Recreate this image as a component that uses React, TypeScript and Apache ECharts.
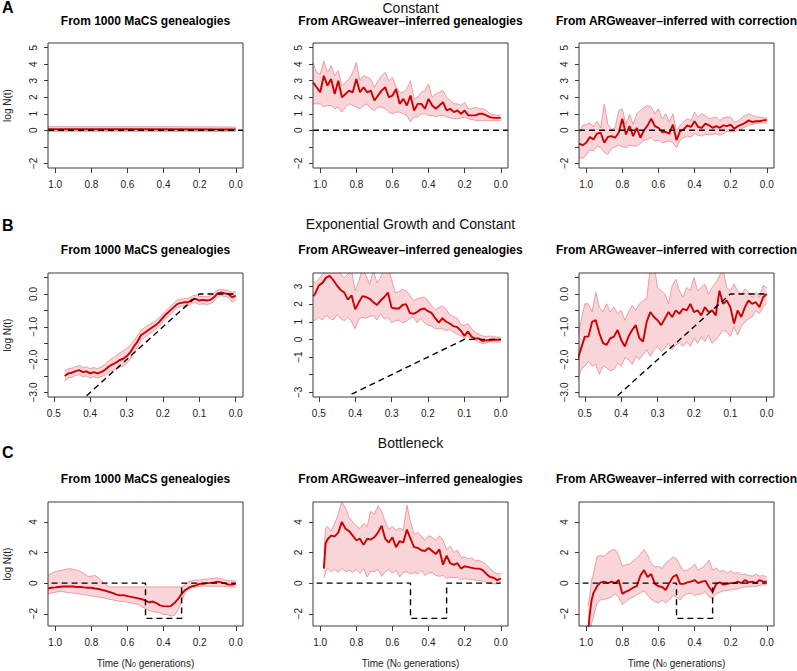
import React, { useEffect, useRef } from "react";
import * as echarts from "echarts";

const FONT = "'Liberation Sans', Arial, Helvetica, sans-serif";

// ---------- texts ----------
const rowTitles = ["Constant", "Exponential Growth and Constant", "Bottleneck"];
const rowLetters = ["A", "B", "C"];
const colTitles = [
  "From 1000 MaCS genealogies",
  "From ARGweaver–inferred genealogies",
  "From ARGweaver–inferred with correction",
];
const yAxisTitle = "log N(t)";
const xAxisTitle = "Time (N{sub|0} generations)";

// ---------- tick values ----------
const xTicksLong = [1.0, 0.8, 0.6, 0.4, 0.2, 0.0];
const xTicksShort = [0.5, 0.4, 0.3, 0.2, 0.1, 0.0];
const yTicksA = [-2, -1, 0, 1, 2, 3, 4, 5];
const yLabelsA = [-2, 0, 1, 2, 3, 4, 5];
const yTicksB = [-3, -2.5, -2, -1.5, -1, -0.5, 0, 0.5];
const yLabelsB = [-3, -2, -1, 0];
const yTicksB2 = [-3, -2, -1, 0, 1, 2, 3];
const yLabelsB2 = [-3, -1, 0, 1, 2, 3];
const yTicksC = [-2, 0, 2, 4];
const yLabelsC = [-2, 0, 2, 4];

// ---------- true histories (dashed) ----------
const truthA_x = [1.04, -0.04];
const truthA_y = [0, 0];
const truthB_x = [0.41, 0.1, 0.0];
const truthB_y = [-3.1, 0, 0];
const truthC_x = [1.02, 0.5, 0.5, 0.3, 0.3, 0.0];
const truthC_y = [0, 0, -2.3, -2.3, 0, 0];

// ---------- time grids ----------
const xFull = [1.04, 1.02, 1.0, 0.98, 0.96, 0.94, 0.92, 0.9, 0.88, 0.86, 0.84, 0.82, 0.8, 0.78, 0.76, 0.74, 0.72, 0.7, 0.68, 0.66, 0.64, 0.62, 0.6, 0.58, 0.56, 0.54, 0.52, 0.5, 0.48, 0.46, 0.44, 0.42, 0.4, 0.38, 0.36, 0.34, 0.32, 0.3, 0.28, 0.26, 0.24, 0.22, 0.2, 0.18, 0.16, 0.14, 0.12, 0.1, 0.08, 0.06, 0.04, 0.02, 0.0];
const xA1 = [1.04, 0.52, 0.0];
const xB1 = [0.47, 0.46, 0.45, 0.44, 0.43, 0.42, 0.41, 0.4, 0.39, 0.38, 0.37, 0.36, 0.35, 0.34, 0.33, 0.32, 0.31, 0.3, 0.29, 0.28, 0.27, 0.26, 0.25, 0.24, 0.23, 0.22, 0.21, 0.2, 0.19, 0.18, 0.17, 0.16, 0.15, 0.14, 0.13, 0.12, 0.11, 0.1, 0.09, 0.08, 0.07, 0.06, 0.05, 0.04, 0.03, 0.02, 0.01, 0.0];
const xB2 = [0.515, 0.51, 0.5, 0.49, 0.48, 0.47, 0.46, 0.45, 0.44, 0.43, 0.42, 0.41, 0.4, 0.39, 0.38, 0.37, 0.36, 0.35, 0.34, 0.33, 0.32, 0.31, 0.3, 0.29, 0.28, 0.27, 0.26, 0.25, 0.24, 0.23, 0.22, 0.21, 0.2, 0.19, 0.18, 0.17, 0.16, 0.15, 0.14, 0.13, 0.12, 0.11, 0.1, 0.09, 0.08, 0.07, 0.06, 0.05, 0.04, 0.03, 0.02, 0.01, 0.0];
const xB3 = [0.52, 0.51, 0.5, 0.49, 0.48, 0.47, 0.46, 0.45, 0.44, 0.43, 0.42, 0.41, 0.4, 0.39, 0.38, 0.37, 0.36, 0.35, 0.34, 0.33, 0.32, 0.31, 0.3, 0.29, 0.28, 0.27, 0.26, 0.25, 0.24, 0.23, 0.22, 0.21, 0.2, 0.19, 0.18, 0.17, 0.16, 0.15, 0.14, 0.13, 0.12, 0.11, 0.1, 0.09, 0.08, 0.07, 0.06, 0.05, 0.04, 0.03, 0.02, 0.01, 0.0];
const xC2 = [0.98, 0.97, 0.96, 0.94, 0.92, 0.9, 0.88, 0.86, 0.84, 0.82, 0.8, 0.78, 0.76, 0.74, 0.72, 0.7, 0.68, 0.66, 0.64, 0.62, 0.6, 0.58, 0.56, 0.54, 0.52, 0.5, 0.48, 0.46, 0.44, 0.42, 0.4, 0.38, 0.36, 0.34, 0.32, 0.3, 0.28, 0.26, 0.24, 0.22, 0.2, 0.18, 0.16, 0.14, 0.12, 0.1, 0.08, 0.06, 0.04, 0.02, 0.0];
const xC3 = [0.99, 0.98, 0.97, 0.96, 0.94, 0.92, 0.9, 0.88, 0.86, 0.84, 0.82, 0.8, 0.78, 0.76, 0.74, 0.72, 0.7, 0.68, 0.66, 0.64, 0.62, 0.6, 0.58, 0.56, 0.54, 0.52, 0.5, 0.48, 0.46, 0.44, 0.42, 0.4, 0.38, 0.36, 0.34, 0.32, 0.3, 0.28, 0.26, 0.24, 0.22, 0.2, 0.18, 0.16, 0.14, 0.12, 0.1, 0.08, 0.06, 0.04, 0.02, 0.0];

// ---------- Row A: constant ----------
const A1_mid = [0.06, 0.06, 0.05];
const A1_lo = [-0.08, -0.08, -0.08];
const A1_hi = [0.22, 0.22, 0.2];

const A2_mid = [2.9, 2.6, 2.3, 3.3, 2.7, 3.1, 2.2, 3.0, 2.0, 2.2, 2.4, 2.3, 3.1, 2.3, 2.6, 2.3, 2.4, 1.8, 2.1, 2.4, 2.6, 2.0, 2.1, 2.5, 1.6, 1.9, 1.5, 2.1, 1.2, 1.6, 1.6, 1.3, 1.9, 1.5, 1.3, 1.5, 1.7, 1.2, 1.3, 1.1, 1.2, 1.0, 1.2, 0.9, 0.9, 0.9, 1.0, 1.0, 0.9, 0.8, 0.75, 0.75, 0.75];
const A2_hi = [4.1, 3.5, 3.4, 4.2, 3.5, 3.9, 3.3, 3.6, 2.7, 2.9, 3.1, 3.5, 4.1, 3.0, 3.3, 3.2, 3.1, 2.6, 3.0, 3.3, 3.5, 3.0, 3.2, 2.6, 2.3, 2.3, 2.5, 3.0, 1.9, 2.0, 2.3, 2.4, 2.8, 2.0, 2.2, 2.3, 2.4, 2.0, 1.8, 1.6, 1.6, 1.5, 1.7, 1.3, 1.3, 1.4, 1.3, 1.3, 1.2, 1.0, 0.95, 0.9, 0.9];
const A2_lo = [1.6, 1.6, 1.6, 1.4, 1.5, 1.5, 1.3, 1.4, 1.1, 1.4, 1.6, 1.5, 1.4, 1.3, 1.5, 1.6, 1.3, 1.2, 1.4, 1.4, 1.3, 1.1, 1.0, 1.1, 1.1, 1.0, 0.9, 0.5, 0.8, 0.8, 1.0, 1.0, 0.9, 0.9, 0.8, 0.9, 0.9, 0.8, 0.75, 0.7, 0.7, 0.75, 0.8, 0.7, 0.65, 0.6, 0.6, 0.6, 0.6, 0.6, 0.6, 0.6, 0.6];

const A3_mid = [-0.8, -0.9, -0.75, -0.4, -0.55, -0.2, -0.15, -0.75, -0.4, -0.35, -0.45, -0.15, 0.7, -0.25, 0.25, -0.35, 0.15, -0.45, 0.0, 0.3, 0.7, 0.25, 0.15, -0.1, -0.1, -0.2, 0.35, -0.6, -0.05, 0.05, 0.3, 0.2, 0.55, 0.2, 0.15, 0.4, 0.3, 0.15, 0.25, 0.15, 0.3, 0.25, 0.35, 0.1, 0.25, 0.35, 0.45, 0.6, 0.5, 0.55, 0.55, 0.6, 0.62];
const A3_hi = [-0.2, 0.3, 0.35, 0.45, 0.2, 0.55, 0.15, 1.6, 0.35, 0.05, 0.15, 1.2, 1.3, 0.35, 0.95, 0.35, 1.0, 1.2, 1.4, 1.5, 1.4, 1.0, 1.3, 0.7, 1.0, 0.5, 1.0, -0.05, 0.3, 0.5, 0.7, 0.6, 1.1, 0.8, 1.0, 0.9, 0.7, 0.75, 0.8, 0.6, 0.75, 0.8, 0.8, 0.5, 0.55, 0.75, 0.9, 1.0, 0.9, 0.8, 0.8, 0.75, 0.75];
const A3_lo = [-1.65, -1.7, -1.5, -1.2, -1.25, -0.95, -1.05, -1.35, -1.45, -1.1, -1.0, -0.9, -1.0, -1.05, -0.9, -0.95, -0.95, -0.8, -0.6, -0.55, -0.45, -0.65, -0.6, -0.75, -0.7, -0.65, -0.75, -1.05, -0.6, -0.45, -0.35, -0.4, -0.2, -0.3, -0.35, -0.25, -0.25, -0.25, -0.2, -0.3, -0.2, -0.05, -0.1, -0.1, 0.0, 0.1, 0.2, 0.3, 0.35, 0.4, 0.45, 0.45, 0.45];

// ---------- Row B: exponential growth and constant ----------
const B1_mid = [-2.5, -2.42, -2.4, -2.35, -2.32, -2.38, -2.36, -2.42, -2.38, -2.42, -2.38, -2.32, -2.22, -2.15, -2.1, -2.02, -1.98, -1.9, -1.78, -1.6, -1.45, -1.25, -1.18, -1.1, -1.02, -0.95, -0.85, -0.72, -0.6, -0.5, -0.4, -0.3, -0.27, -0.25, -0.25, -0.17, -0.15, -0.2, -0.18, -0.2, -0.18, -0.1, 0.02, 0.05, 0.02, 0.0, -0.1, -0.05];
const B1_hi = [-2.35, -2.28, -2.26, -2.22, -2.18, -2.24, -2.22, -2.28, -2.24, -2.28, -2.22, -2.16, -2.04, -1.97, -1.9, -1.8, -1.74, -1.66, -1.56, -1.42, -1.28, -1.1, -1.02, -0.95, -0.88, -0.82, -0.72, -0.6, -0.48, -0.38, -0.28, -0.18, -0.16, -0.14, -0.13, -0.06, -0.04, -0.08, -0.07, -0.08, -0.06, 0.02, 0.12, 0.14, 0.12, 0.1, 0.05, 0.08];
const B1_lo = [-2.65, -2.56, -2.54, -2.48, -2.46, -2.52, -2.5, -2.56, -2.52, -2.56, -2.52, -2.48, -2.4, -2.33, -2.3, -2.24, -2.2, -2.12, -1.98, -1.78, -1.62, -1.4, -1.32, -1.24, -1.16, -1.08, -0.98, -0.85, -0.72, -0.62, -0.52, -0.42, -0.38, -0.36, -0.36, -0.28, -0.26, -0.32, -0.3, -0.32, -0.3, -0.22, -0.08, -0.05, -0.08, -0.1, -0.25, -0.18];

const B2_mid = [2.45, 2.6, 3.05, 3.2, 3.5, 3.6, 3.35, 3.05, 2.8, 2.65, 2.25, 2.5, 1.7, 2.1, 2.45, 2.4, 2.3, 2.1, 1.95, 2.2, 2.4, 2.65, 1.8, 1.75, 1.75, 1.95, 2.0, 1.5, 1.45, 1.55, 1.7, 1.75, 1.6, 1.5, 1.2, 0.95, 1.2, 1.0, 0.9, 0.75, 0.7, 0.5, 0.2, 0.45, 0.15, 0.05, 0.05, -0.1, -0.05, -0.05, -0.02, -0.02, -0.02];
const B2_hi = [3.3, 3.2, 3.4, 3.7, 3.9, 4.2, 4.3, 4.0, 3.7, 3.5, 3.7, 3.9, 2.75, 3.3, 4.0, 3.6, 3.1, 3.9, 3.2, 3.5, 4.0, 4.1, 3.4, 2.65, 2.7, 2.85, 2.75, 2.5, 2.2, 2.3, 2.35, 2.4, 2.2, 1.9, 1.7, 1.8, 1.9, 1.7, 1.4, 1.3, 1.2, 0.85, 0.8, 0.9, 0.6, 0.4, 0.3, 0.2, 0.15, 0.2, 0.15, 0.13, 0.13];
const B2_lo = [1.05, 1.1, 1.25, 1.1, 1.35, 1.2, 1.1, 1.4, 1.2, 1.05, 1.25, 1.0, 0.6, 1.15, 1.25, 1.2, 1.3, 1.35, 1.1, 1.45, 1.15, 1.25, 0.95, 1.05, 1.1, 0.95, 1.0, 1.2, 1.25, 0.95, 1.2, 0.95, 0.8, 0.75, 0.6, 0.6, 0.6, 0.5, 0.55, 0.4, 0.3, 0.2, 0.05, 0.2, 0.05, -0.05, -0.15, -0.25, -0.2, -0.15, -0.15, -0.15, -0.15];

const B3_mid = [-2.0, -1.65, -1.3, -1.3, -0.85, -0.8, -1.2, -1.5, -1.55, -1.35, -1.3, -1.1, -1.4, -1.6, -1.3, -1.1, -0.95, -1.35, -1.45, -0.85, -0.55, -0.7, -0.8, -0.95, -0.75, -0.55, -0.7, -0.5, -0.6, -0.45, -0.5, -0.3, -0.55, -0.5, -0.65, -0.4, -0.55, -0.5, -0.65, 0.1, -0.3, -0.2, -0.4, -0.9, -0.5, -0.7, -0.4, -0.2, -0.3, -0.25, -0.4, -0.1, 0.0];
const B3_hi = [-1.3, -0.8, -0.3, -0.3, -0.55, 0.05, -0.4, -0.55, -0.3, -0.55, -0.4, -0.6, -0.5, -0.8, -0.55, -0.35, -0.5, -0.3, -0.2, -0.15, 0.8, 0.9, 0.2, 0.1, 0.0, -0.3, 0.25, 0.45, 0.1, -0.1, 0.2, 0.1, 0.5, 0.1, 0.2, 0.3, 0.0, 0.2, 0.35, 0.55, 0.75, 0.2, 0.1, 0.3, 0.1, 0.0, 0.15, 0.05, -0.1, 0.05, -0.1, 0.25, 0.2];
const B3_lo = [-2.65, -2.3, -2.2, -2.05, -2.2, -2.15, -2.45, -2.2, -2.25, -2.35, -2.3, -2.1, -2.2, -1.95, -2.0, -2.15, -1.9, -2.0, -1.85, -1.7, -1.9, -1.7, -1.6, -1.75, -1.65, -1.5, -1.7, -1.55, -1.5, -1.6, -1.45, -1.6, -1.35, -1.5, -1.3, -1.45, -1.25, -1.5, -1.4, -1.25, -1.1, -1.15, -1.3, -1.0, -1.25, -1.0, -0.85, -0.75, -0.7, -0.5, -0.6, -0.4, -0.3];

// ---------- Row C: bottleneck ----------
const C1_mid = [-0.35, -0.3, -0.28, -0.25, -0.22, -0.22, -0.22, -0.22, -0.25, -0.25, -0.28, -0.3, -0.3, -0.35, -0.38, -0.45, -0.5, -0.58, -0.65, -0.75, -0.8, -0.78, -0.85, -0.9, -0.95, -1.0, -1.05, -1.15, -1.25, -1.2, -1.3, -1.45, -1.5, -1.52, -1.5, -1.3, -1.05, -0.7, -0.45, -0.3, -0.2, -0.15, -0.05, -0.05, 0.0, 0.02, 0.05, 0.1, 0.05, -0.02, -0.1, -0.1, -0.05];
const C1_hi = [0.5, 0.65, 0.75, 0.8, 0.85, 0.9, 0.95, 0.9, 0.85, 0.75, 0.63, 0.45, 0.45, 0.5, 0.35, 0.1, -0.1, -0.25, -0.25, -0.25, -0.25, -0.25, -0.25, -0.25, -0.25, -0.25, -0.25, -0.25, -0.25, -0.25, -0.25, -0.25, -0.25, -0.25, -0.25, -0.25, -0.25, -0.25, -0.1, 0.1, 0.15, 0.2, 0.2, 0.25, 0.25, 0.3, 0.3, 0.35, 0.3, 0.2, 0.15, 0.15, 0.15];
const C1_lo = [-0.7, -0.65, -0.6, -0.55, -0.55, -0.6, -0.62, -0.65, -0.68, -0.72, -0.75, -0.8, -0.85, -0.88, -0.9, -0.95, -1.0, -1.05, -1.1, -1.15, -1.2, -1.2, -1.25, -1.3, -1.35, -1.4, -1.55, -1.65, -1.8, -1.85, -1.9, -1.95, -2.05, -2.05, -2.15, -2.1, -1.75, -1.2, -0.6, -0.4, -0.3, -0.25, -0.22, -0.2, -0.2, -0.2, -0.2, -0.2, -0.2, -0.22, -0.25, -0.25, -0.25];

const C2_mid = [0.95, 2.6, 2.85, 3.1, 3.05, 3.3, 4.0, 3.55, 3.4, 3.1, 2.8, 2.9, 2.5, 2.9, 2.85, 3.0, 3.3, 3.75, 2.9, 2.65, 3.0, 2.35, 2.75, 2.65, 3.5, 2.9, 2.35, 2.3, 2.15, 2.1, 2.3, 2.1, 1.9, 2.2, 1.2, 1.8, 1.3, 1.2, 1.3, 0.95, 1.1, 1.05, 1.0, 0.95, 0.95, 0.85, 0.6, 0.4, 0.35, 0.2, 0.3];
const C2_hi = [2.0, 3.6, 3.7, 3.4, 3.9, 4.5, 5.3, 4.9, 4.3, 4.0, 3.75, 3.55, 3.9, 3.7, 4.7, 4.5, 5.05, 4.7, 4.0, 3.5, 3.7, 3.45, 3.6, 3.45, 5.1, 4.0, 3.2, 3.3, 3.1, 2.8, 3.1, 3.0, 2.8, 3.1, 2.8, 2.2, 2.4, 2.0, 2.15, 1.7, 1.7, 1.6, 1.65, 1.45, 1.5, 1.35, 1.2, 0.95, 0.75, 0.6, 0.65];
const C2_lo = [0.35, 0.7, 1.0, 0.75, 0.9, 0.7, 0.95, 0.75, 0.85, 0.7, 0.9, 0.65, 0.95, 0.4, 0.8, 0.75, 0.9, 0.45, 0.75, 0.9, 0.65, 0.85, 0.4, 0.7, 0.75, 0.6, 0.7, 0.6, 0.85, 0.5, 0.65, 0.7, 0.5, 0.45, 0.5, 0.3, 0.4, 0.35, 0.4, 0.2, 0.3, 0.25, 0.22, 0.2, 0.18, 0.12, 0.05, 0.0, -0.05, -0.05, 0.0];

const C3_mid = [-3.2, -2.0, -1.1, -0.65, -0.2, 0.05, 0.1, 0.0, 0.1, 0.0, 0.2, -0.7, -0.55, -0.45, -0.3, -0.2, 0.5, 0.85, 0.4, 0.6, -0.05, -0.2, -0.25, -0.45, 0.0, 0.4, 0.55, -0.05, -0.05, 0.05, 0.1, 0.2, 0.0, 0.1, 0.15, -0.25, -0.55, -0.05, 0.05, -0.1, -0.05, 0.0, 0.0, 0.1, 0.0, 0.2, 0.05, 0.1, 0.0, 0.2, 0.1, 0.1];
const C3_hi = [-1.5, -0.8, 0.2, 0.6, 1.75, 1.8, 1.75, 2.0, 2.15, 2.2, 1.8, 1.1, 1.2, 1.25, 1.45, 1.65, 1.9, 2.2, 1.8, 1.3, 1.05, 1.1, 0.95, 1.3, 1.5, 1.7, 1.6, 1.15, 0.8, 0.85, 1.0, 1.25, 0.85, 1.0, 1.2, 1.5, 0.85, 1.0, 0.75, 0.85, 0.65, 0.8, 0.65, 0.7, 0.55, 0.6, 0.5, 0.45, 0.6, 0.45, 0.5, 0.4];
const C3_lo = [-4.0, -3.3, -2.6, -2.2, -1.3, -1.1, -1.05, -1.0, -0.9, -0.7, -0.9, -1.4, -1.2, -1.0, -0.9, -0.75, -0.65, -0.5, -0.8, -1.05, -1.2, -1.3, -1.1, -1.3, -1.1, -0.8, -0.9, -1.1, -0.8, -0.7, -0.65, -0.8, -0.75, -0.7, -0.55, -0.9, -1.0, -0.7, -0.6, -0.5, -0.48, -0.45, -0.4, -0.38, -0.3, -0.25, -0.25, -0.2, -0.22, -0.15, -0.12, -0.12];

// ---------- layout (positions / styles only) ----------
const COL_LEFT = [48, 313, 579];
const PLOT_W = 195;
const ROW_TOP = [43, 273, 502];
const ROW_H = [125, 124, 124];
const LETTER_Y = [7.5, 225, 452];
const ROWTITLE_Y = [7.5, 224, 443];
const COLTITLE_Y = [21, 250, 479];
const XTITLE_Y = 663;

const MAIN = "#CC0000";
const BAND = "#F9D5DA";
const EDGE = "#E48A8F";

const panels = [
  { row: 0, col: 0, x: xA1, mid: A1_mid, lo: A1_lo, hi: A1_hi, tx: truthA_x, ty: truthA_y, xr: [-0.04, 1.04], xt: xTicksLong, yr: [-2.28, 5.28], yt: yTicksA, yl: yLabelsA, yd: 0 },
  { row: 0, col: 1, x: xFull, mid: A2_mid, lo: A2_lo, hi: A2_hi, tx: truthA_x, ty: truthA_y, xr: [-0.04, 1.04], xt: xTicksLong, yr: [-2.28, 5.28], yt: yTicksA, yl: yLabelsA, yd: 0 },
  { row: 0, col: 2, x: xFull, mid: A3_mid, lo: A3_lo, hi: A3_hi, tx: truthA_x, ty: truthA_y, xr: [-0.04, 1.04], xt: xTicksLong, yr: [-2.28, 5.28], yt: yTicksA, yl: yLabelsA, yd: 0 },
  { row: 1, col: 0, x: xB1, mid: B1_mid, lo: B1_lo, hi: B1_hi, tx: truthB_x, ty: truthB_y, xr: [-0.02, 0.516], xt: xTicksShort, yr: [-3.14, 0.64], yt: yTicksB, yl: yLabelsB, yd: 1 },
  { row: 1, col: 1, x: xB2, mid: B2_mid, lo: B2_lo, hi: B2_hi, tx: truthB_x, ty: truthB_y, xr: [-0.02, 0.516], xt: xTicksShort, yr: [-3.26, 3.76], yt: yTicksB2, yl: yLabelsB2, yd: 0 },
  { row: 1, col: 2, x: xB3, mid: B3_mid, lo: B3_lo, hi: B3_hi, tx: truthB_x, ty: truthB_y, xr: [-0.02, 0.516], xt: xTicksShort, yr: [-3.14, 0.64], yt: yTicksB, yl: yLabelsB, yd: 1 },
  { row: 2, col: 0, x: xFull, mid: C1_mid, lo: C1_lo, hi: C1_hi, tx: truthC_x, ty: truthC_y, xr: [-0.04, 1.04], xt: xTicksLong, yr: [-2.8, 5.3], yt: yTicksC, yl: yLabelsC, yd: 0 },
  { row: 2, col: 1, x: xC2, mid: C2_mid, lo: C2_lo, hi: C2_hi, tx: truthC_x, ty: truthC_y, xr: [-0.04, 1.04], xt: xTicksLong, yr: [-2.8, 5.3], yt: yTicksC, yl: yLabelsC, yd: 0 },
  { row: 2, col: 2, x: xC3, mid: C3_mid, lo: C3_lo, hi: C3_hi, tx: truthC_x, ty: truthC_y, xr: [-0.04, 1.04], xt: xTicksLong, yr: [-2.8, 5.3], yt: yTicksC, yl: yLabelsC, yd: 0 },
];

const fmtNum = (v: number, d: number) => (v < 0 ? "\u2212" : "") + Math.abs(v).toFixed(d);
const zip = (a: number[], b: number[]) => a.map((x, k) => [x, b[k]]);

function buildOption() {
  const grid: any[] = [];
  const xAxis: any[] = [];
  const yAxis: any[] = [];
  const series: any[] = [];

  panels.forEach((p, i) => {
    grid.push({
      left: COL_LEFT[p.col],
      top: ROW_TOP[p.row],
      width: PLOT_W,
      height: ROW_H[p.row],
      show: true,
      borderColor: "#3a3a3a",
      borderWidth: 1,
      backgroundColor: "transparent",
      z: 10,
    });
    xAxis.push({
      type: "value",
      gridIndex: i,
      inverse: true,
      min: p.xr[0],
      max: p.xr[1],
      axisLine: { show: false, onZero: false },
      splitLine: { show: false },
      axisTick: { show: true, length: 5, customValues: p.xt, lineStyle: { color: "#3a3a3a", width: 1 } },
      axisLabel: {
        show: true,
        customValues: p.xt,
        formatter: (v: number) => fmtNum(v, 1),
        margin: 11,
        fontSize: 10,
        color: "#222",
        fontFamily: FONT,
      },
    });
    yAxis.push({
      type: "value",
      gridIndex: i,
      min: p.yr[0],
      max: p.yr[1],
      axisLine: { show: false, onZero: false },
      splitLine: { show: false },
      axisTick: { show: true, length: 4, customValues: p.yt, lineStyle: { color: "#3a3a3a", width: 1 } },
      axisLabel: {
        show: true,
        customValues: p.yl,
        rotate: 90,
        formatter: (v: number) => fmtNum(v, p.yd),
        margin: 10,
        fontSize: 10,
        color: "#222",
        fontFamily: FONT,
      },
    });

    // confidence band as a polygon
    series.push({
      type: "custom",
      xAxisIndex: i,
      yAxisIndex: i,
      clip: true,
      silent: true,
      z: 1,
      data: [[0, 0]],
      renderItem: (_params: any, api: any) => {
        const up = p.x.map((x, k) => api.coord([x, p.hi[k]]));
        const dn = p.x.map((x, k) => api.coord([x, p.lo[k]])).reverse();
        return {
          type: "polygon",
          shape: { points: up.concat(dn) },
          style: { fill: BAND, stroke: null },
        };
      },
    });
    const lineBase = { type: "line", xAxisIndex: i, yAxisIndex: i, symbol: "none", showSymbol: false, silent: true, clip: true };
    series.push({ ...lineBase, z: 2, data: zip(p.x, p.lo), lineStyle: { color: EDGE, width: 0.8 } });
    series.push({ ...lineBase, z: 2, data: zip(p.x, p.hi), lineStyle: { color: EDGE, width: 0.8 } });
    series.push({ ...lineBase, z: 3, data: zip(p.x, p.mid), lineStyle: { color: MAIN, width: 1.9 } });
    series.push({ ...lineBase, z: 4, data: zip(p.tx, p.ty), lineStyle: { color: "#000", width: 1.4, type: [6, 4] } });
  });

  const elements: any[] = [];
  rowLetters.forEach((L, r) => {
    elements.push({
      type: "text",
      x: 2,
      y: LETTER_Y[r],
      style: { text: L, fontSize: 16, fontWeight: "bold", fontFamily: FONT, fill: "#000", textAlign: "left", textVerticalAlign: "middle" },
    });
    elements.push({
      type: "text",
      x: COL_LEFT[1] + PLOT_W / 2,
      y: ROWTITLE_Y[r],
      style: { text: rowTitles[r], fontSize: 14, fontFamily: FONT, fill: "#111", textAlign: "center", textVerticalAlign: "middle" },
    });
    colTitles.forEach((t, c) => {
      elements.push({
        type: "text",
        x: COL_LEFT[c] + PLOT_W / 2,
        y: COLTITLE_Y[r],
        style: { text: t, fontSize: 12, fontWeight: "bold", fontFamily: FONT, fill: "#000", textAlign: "center", textVerticalAlign: "middle" },
      });
    });
    elements.push({
      type: "text",
      x: 7,
      y: ROW_TOP[r] + ROW_H[r] / 2,
      rotation: Math.PI / 2,
      style: { text: yAxisTitle, fontSize: 10, fontFamily: FONT, fill: "#222", textAlign: "center", textVerticalAlign: "middle" },
    });
  });
  [0, 1, 2].forEach((c) => {
    elements.push({
      type: "text",
      x: COL_LEFT[c] + PLOT_W / 2,
      y: XTITLE_Y,
      style: {
        text: xAxisTitle,
        fontSize: 10,
        fontFamily: FONT,
        fill: "#222",
        textAlign: "center",
        textVerticalAlign: "middle",
        rich: { sub: { fontSize: 7, lineHeight: 4, verticalAlign: "bottom", fontFamily: FONT, fill: "#222" } },
      },
    });
  });

  return {
    animation: false,
    backgroundColor: "#fff",
    textStyle: { fontFamily: FONT },
    grid,
    xAxis,
    yAxis,
    series,
    graphic: { elements },
  };
}

export default function App() {
  const ref = useRef<HTMLDivElement>(null);
  useEffect(() => {
    if (!ref.current) return;
    const chart = echarts.init(ref.current, undefined, { renderer: "svg" });
    chart.setOption(buildOption() as any);
    return () => chart.dispose();
  }, []);
  return <div ref={ref} style={{ position: "fixed", left: 0, top: 0, width: 797, height: 671, background: "#fff" }} />;
}
